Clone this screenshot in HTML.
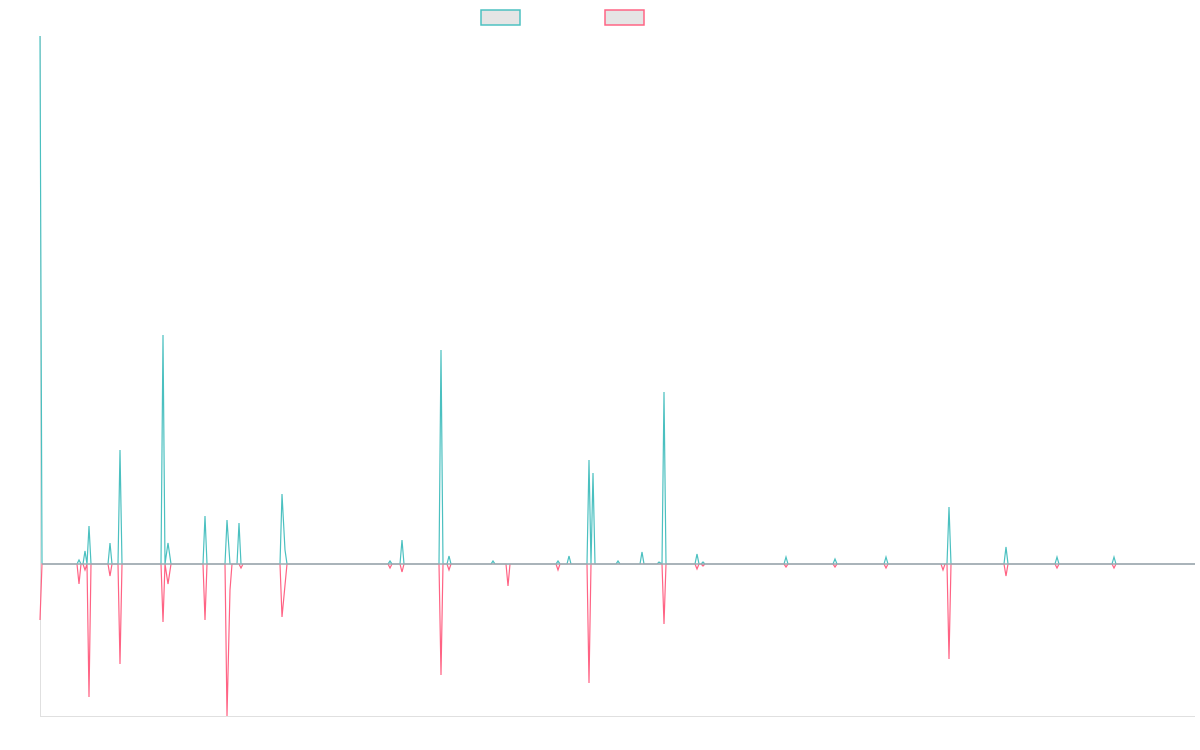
<!DOCTYPE html>
<html><head><style>body{margin:0;background:#fff}svg{display:block}</style></head>
<body>
<svg width="1200" height="750" xmlns="http://www.w3.org/2000/svg">
<rect x="481" y="10" width="39" height="15" fill="#e5e5e5" stroke="#4bc0c0" stroke-width="1.5"/>
<rect x="605" y="10" width="39" height="15" fill="#e5e5e5" stroke="#ff6384" stroke-width="1.5"/>
<line x1="40.5" y1="36" x2="40.5" y2="716" stroke="#e0e0e0"/>
<line x1="40" y1="716.5" x2="1195" y2="716.5" stroke="#e0e0e0"/>
<polyline fill="none" stroke="#4bc0c0" stroke-width="1.2" points="40,36 42,564 77,564 79,560 81,564 83,564 85,551 87,564 89,526 91,564 108,564 110,543 112,564 118,564 120,450 122,564 161,564 163,335 165,564 168,543 171,564 203,564 205,516 207,564 225,564 227,520 230,564 237,564 239,523 241,564 280,564 282,494 285,550 287,564 388,564 390,561 392,564 400,564 402,540 404,564 439,564 441,350 443,564 447,564 449,556 451,564 491,564 493,561 495,564 556,564 558,561 560,564 567,564 569,556 571,564 587,564 589,460 591,564 593,473 595,564 616,564 618,561 620,564 640,564 642,552 644,564 657,564 659,562 662,564 664,392 666,564 695,564 697,554 699,564 701,564 703,562 705,564 784,564 786,557 788,564 833,564 835,559 837,564 884,564 886,557 888,564 947,564 949,507 951,564 1004,564 1006,547 1008,564 1055,564 1057,557 1059,564 1112,564 1114,557 1116,564 1195,564"/>
<polyline fill="none" stroke="#ff6384" stroke-width="1.2" points="40,620 42,564 77,564 79,584 81,564 83,564 85,570 87,564 89,697 91,564 108,564 110,576 112,564 118,564 120,664 122,564 161,564 163,622 165,564 168,584 171,564 203,564 205,620 207,564 225,564 227,716 230,590 232,564 239,564 241,568 243,564 280,564 282,617 287,564 388,564 390,568 392,564 400,564 402,572 404,564 439,564 441,675 443,564 447,564 449,570 451,564 506,564 508,586 510,564 556,564 558,570 560,564 587,564 589,683 591,564 662,564 664,624 666,564 695,564 697,569 699,564 701,564 703,566 705,564 784,564 786,567 788,564 833,564 835,567 837,564 884,564 886,568 888,564 941,564 943,570 945,564 947,564 949,659 951,564 1004,564 1006,576 1008,564 1055,564 1057,568 1059,564 1112,564 1114,568 1116,564 1195,564"/>
<line x1="42" y1="564" x2="1195" y2="564" stroke="#9aacb2" stroke-width="1.6"/>
</svg>
</body></html>
